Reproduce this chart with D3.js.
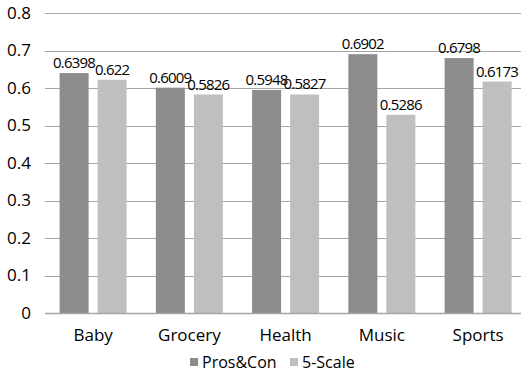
<!DOCTYPE html>
<html>
<head>
<meta charset="utf-8">
<script src="https://cdn.jsdelivr.net/npm/d3@7"></script>
<style>
  body { margin: 0; background: #fff; }
  text { font-family: "Open Sans", "Noto Sans", sans-serif; fill: #000; }
</style>
</head>
<body>
<script>
// chart data
var categories = ["Baby", "Grocery", "Health", "Music", "Sports"];
var seriesNames = ["Pros&Con", "5-Scale"];
var prosCon = [0.6398, 0.6009, 0.5948, 0.6902, 0.6798];
var fiveScale = [0.622, 0.5826, 0.5827, 0.5286, 0.6173];
var yTicks = [0, 0.1, 0.2, 0.3, 0.4, 0.5, 0.6, 0.7, 0.8];
var colors = ["#8c8c8c", "#bfbfbf"];

var svgWidth = 521;
var svgHeight = 372;

var svg = d3.select("body")
  .append("svg")
  .attr("width", svgWidth)
  .attr("height", svgHeight);

// plot area: left 45, bottom 313, 0.8 at 13
var x0 = d3.scaleBand()
  .domain(categories)
  .range([45, 526.25])
  .padding(0);

var x1 = d3.scaleBand()
  .domain(seriesNames)
  .range([14.6, 81.6])
  .paddingInner(9 / 38)
  .paddingOuter(0);

var y = d3.scaleLinear()
  .domain([0, 0.8])
  .range([313, 13]);

// gridlines
svg.append("g")
  .selectAll("line")
  .data(yTicks.filter(d => d > 0))
  .join("line")
  .attr("x1", 45)
  .attr("x2", svgWidth)
  .attr("y1", d => Math.round(y(d)) + 0.5)
  .attr("y2", d => Math.round(y(d)) + 0.5)
  .attr("stroke", "#a6a6a6")
  .attr("stroke-width", 1);

// y labels
var leftAxis = d3.axisLeft(y)
  .tickValues(yTicks)
  .tickFormat(d => d === 0 ? "0" : d3.format(".1f")(d))
  .tickSize(0)
  .tickPadding(0);

var yAxisG = svg.append("g")
  .attr("transform", "translate(31,0)")
  .call(leftAxis);
yAxisG.select(".domain").remove();
yAxisG.selectAll("text")
  .style("font-size", "17px")
  .style("font-family", "'Open Sans', 'Noto Sans', sans-serif")
  .attr("fill", "#000");

// bars
var rows = categories.map((c, i) => ({
  category: c,
  values: [
    { series: seriesNames[0], value: prosCon[i] },
    { series: seriesNames[1], value: fiveScale[i] }
  ]
}));

var groups = svg.append("g")
  .selectAll("g")
  .data(rows)
  .join("g")
  .attr("transform", d => `translate(${x0(d.category)},0)`);

groups.selectAll("rect")
  .data(d => d.values)
  .join("rect")
  .attr("x", d => x1(d.series))
  .attr("y", d => y(d.value))
  .attr("width", x1.bandwidth())
  .attr("height", d => y(0) - y(d.value))
  .attr("fill", (d, i) => colors[i]);

// value labels, a bit condensed like the original
groups.selectAll("text")
  .data(d => d.values)
  .join("text")
  .attr("x", d => x1(d.series) + x1.bandwidth() / 2)
  .attr("y", d => y(d.value) - 5)
  .attr("text-anchor", "middle")
  .style("font-size", "15px")
  .style("letter-spacing", "-0.8px")
  .text(d => d.value);

// x axis line
svg.append("line")
  .attr("x1", 45)
  .attr("x2", svgWidth)
  .attr("y1", 313.5)
  .attr("y2", 313.5)
  .attr("stroke", "#a6a6a6")
  .attr("stroke-width", 1.5);

// category labels
var bottomAxis = d3.axisBottom(x0).tickSize(0).tickPadding(0);
var xAxisG = svg.append("g")
  .attr("transform", "translate(0,329)")
  .call(bottomAxis);
xAxisG.select(".domain").remove();
xAxisG.selectAll("text")
  .style("font-size", "17px")
  .style("font-family", "'Open Sans', 'Noto Sans', sans-serif")
  .attr("fill", "#000");

// legend
var legendX = [190, 290];
var legend = svg.append("g")
  .selectAll("g")
  .data(seriesNames)
  .join("g")
  .attr("transform", (d, i) => `translate(${legendX[i]},362)`);

legend.append("rect")
  .attr("x", 0)
  .attr("y", -4)
  .attr("width", 8)
  .attr("height", 8)
  .attr("fill", (d, i) => colors[i]);

legend.append("text")
  .attr("x", 12)
  .attr("dy", "0.35em")
  .style("font-size", "16px")
  .text(d => d);
</script>
</body>
</html>
